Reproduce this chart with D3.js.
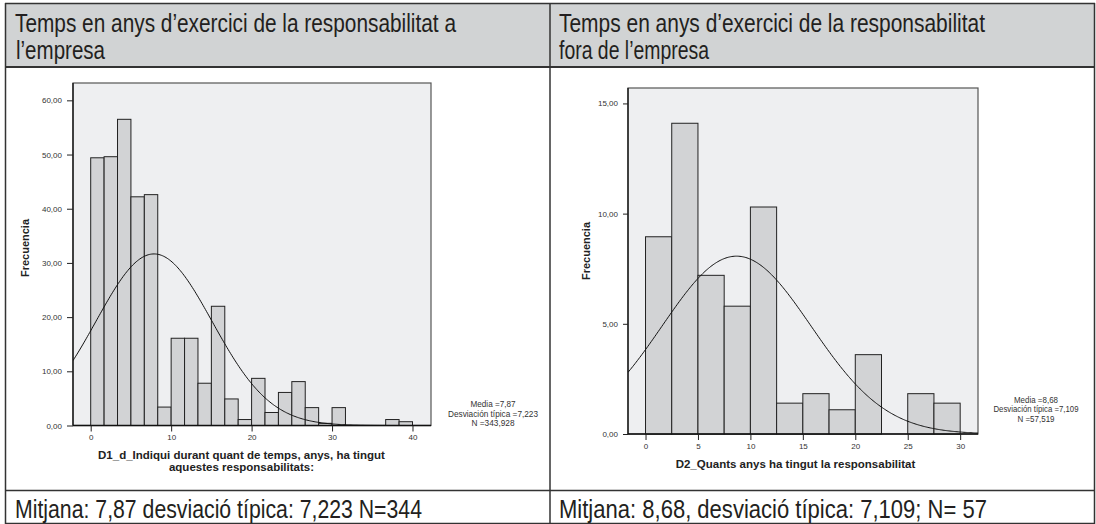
<!DOCTYPE html>
<html><head><meta charset="utf-8">
<script src="https://cdn.jsdelivr.net/npm/d3@7"></script>
<style>body{margin:0;background:#fff}</style>
</head><body><svg id="c" width="1096" height="524"></svg>
<script>
// ---- data ----
const leftFreq = [49.4, 49.6, 56.5, 42.2, 42.6, 3.4, 16.1, 16.1, 7.8, 22.0, 4.9, 1.1, 8.7, 2.4, 6.1, 8.1, 3.3, 0.4, 3.3, 0, 0, 0, 1.1, 0.7];
const leftBinStart = 0, leftBinWidth = 40 / 24;
const leftStats = [7.87, 7.223, 343.928]; // mean, sd, N
const leftYTicks = [0, 10, 20, 30, 40, 50, 60];
const leftXTicks = [0, 10, 20, 30, 40];
const leftLegend = ["Media =7,87", "Desviación típica =7,223", "N =343,928"];
const leftXLabel = ["D1_d_Indiqui durant quant de temps, anys, ha tingut", "aquestes responsabilitats:"];
const leftTitle = ["Temps en anys d\u2019exercici de la responsabilitat a", "l\u2019empresa"];
const leftFooter = "Mitjana: 7,87 desviació típica: 7,223 N=344";

const rightFreq = [8.95, 14.1, 7.2, 5.8, 10.3, 1.4, 1.83, 1.1, 3.6, 0, 1.83, 1.4];
const rightBinStart = 0, rightBinWidth = 2.5;
const rightStats = [8.68, 7.109, 57.519];
const rightYTicks = [0, 5, 10, 15];
const rightXTicks = [0, 5, 10, 15, 20, 25, 30];
const rightLegend = ["Media =8,68", "Desviación típica =7,109", "N =57,519"];
const rightXLabel = ["D2_Quants anys ha tingut la responsabilitat"];
const rightTitle = ["Temps en anys d\u2019exercici de la responsabilitat", "fora de l\u2019empresa"];
const rightFooter = "Mitjana: 8,68, desviació típica: 7,109; N= 57";

const yLabel = "Frecuencia";

// ---- drawing ----
const svg = d3.select("#c");
const sans = "'Liberation Sans',Arial,sans-serif";

// table
svg.append("rect").attr("x", 5).attr("y", 3).attr("width", 1089).attr("height", 64).attr("fill", "#d1d3d4");
const tl = svg.append("g").attr("stroke", "#333").attr("fill", "none");
tl.append("line").attr("x1", 5).attr("x2", 1095).attr("y1", 3.5).attr("y2", 3.5).attr("stroke-width", 1.5);
tl.append("line").attr("x1", 5).attr("x2", 1095).attr("y1", 67).attr("y2", 67).attr("stroke-width", 2);
tl.append("line").attr("x1", 5).attr("x2", 1095).attr("y1", 490.5).attr("y2", 490.5).attr("stroke-width", 1.5);
tl.append("line").attr("x1", 5).attr("x2", 1095).attr("y1", 523.5).attr("y2", 523.5).attr("stroke-width", 1.5);
tl.append("line").attr("x1", 5.5).attr("x2", 5.5).attr("y1", 3).attr("y2", 524).attr("stroke-width", 1.5);
tl.append("line").attr("x1", 1094.5).attr("x2", 1094.5).attr("y1", 3).attr("y2", 524).attr("stroke-width", 1.5);
tl.append("line").attr("x1", 550).attr("x2", 550).attr("y1", 3).attr("y2", 524).attr("stroke-width", 1.5);

function bigText(x, y, s, w) {
  svg.append("text").attr("x", x).attr("y", y).text(s)
    .attr("font-family", sans).attr("font-size", 25).attr("fill", "#231f20")
    .attr("textLength", w).attr("lengthAdjust", "spacingAndGlyphs");
}
bigText(15, 32, leftTitle[0], 441);
bigText(16, 59, leftTitle[1], 89);
bigText(559, 32, rightTitle[0], 426);
bigText(559, 59, rightTitle[1], 150);
bigText(15, 518, leftFooter, 407);
bigText(559, 518, rightFooter, 428);

function hist(cfg) {
  const g = svg.append("g");
  const x = d3.scaleLinear().domain(cfg.xDom).range([cfg.left, cfg.right]);
  const y = d3.scaleLinear().domain(cfg.yDom).range([cfg.bottom, cfg.top]);
  const clipId = "clip" + cfg.id;
  svg.append("clipPath").attr("id", clipId).append("rect")
    .attr("x", cfg.left).attr("y", cfg.top).attr("width", cfg.right - cfg.left).attr("height", cfg.bottom - cfg.top);
  g.append("rect").attr("x", cfg.left).attr("y", cfg.top).attr("width", cfg.right - cfg.left).attr("height", cfg.bottom - cfg.top)
    .attr("fill", "#eeeff1").attr("stroke", "#555").attr("stroke-width", 1.2);
  const bins = cfg.freq.map((f, i) => ({ x0: cfg.start + i * cfg.bw, x1: cfg.start + (i + 1) * cfg.bw, f }));
  g.append("g").selectAll("rect").data(bins.filter(d => d.f > 0)).join("rect")
    .attr("x", d => x(d.x0)).attr("width", d => x(d.x1) - x(d.x0))
    .attr("y", d => y(d.f)).attr("height", d => y(0) - y(d.f))
    .attr("fill", "#d2d3d5").attr("stroke", "#222").attr("stroke-width", 1);
  // normal curve from the stated mean, sd, N
  const [m, sd, n] = cfg.stats;
  const xs = d3.range(0, 301).map(i => cfg.xDom[0] + (cfg.xDom[1] - cfg.xDom[0]) * i / 300);
  const pts = xs.map(v => [v, n * cfg.bw / (sd * Math.sqrt(2 * Math.PI)) * Math.exp(-0.5 * ((v - m) / sd) ** 2)]);
  g.append("path").datum(pts).attr("clip-path", `url(#${clipId})`)
    .attr("d", d3.line().x(d => x(d[0])).y(d => y(d[1])))
    .attr("fill", "none").attr("stroke", "#111").attr("stroke-width", 1);
  // axes
  const fmt = v => d3.format(".2f")(v).replace(".", ",");
  const ya = g.append("g").attr("transform", `translate(${cfg.left},0)`)
    .call(d3.axisLeft(y).tickValues(cfg.yTicks).tickFormat(fmt).tickSize(cfg.yTick).tickPadding(5));
  const xa = g.append("g").attr("transform", `translate(0,${cfg.bottom})`)
    .call(d3.axisBottom(x).tickValues(cfg.xTicks).tickSize(6).tickPadding(3));
  [ya, xa].forEach(a => {
    a.select(".domain").attr("stroke", "#111").attr("stroke-width", 1.3);
    a.selectAll(".tick line").attr("stroke", "#222");
    a.selectAll(".tick text").attr("font-family", sans).attr("font-size", 8).attr("fill", "#333");
  });
  xa.select(".domain").attr("d", `M${cfg.left},0H${cfg.right}`);
  ya.select(".domain").attr("d", `M0,${cfg.bottom}V${cfg.top}`);
  // y label
  svg.append("text").attr("transform", `translate(${cfg.ylx},${cfg.yly}) rotate(-90)`)
    .attr("text-anchor", "middle").text(yLabel)
    .attr("font-family", sans).attr("font-weight", "bold").attr("font-size", 11).attr("fill", "#222");
  // x label
  cfg.xLabel.forEach((s, i) => svg.append("text").attr("x", cfg.xlx).attr("y", cfg.xly + i * 12)
    .attr("text-anchor", "middle").text(s)
    .attr("font-family", sans).attr("font-weight", "bold").attr("font-size", 11.5).attr("fill", "#222"));
  // legend
  cfg.legend.forEach((s, i) => svg.append("text").attr("x", cfg.lgx).attr("y", cfg.lgy + i * 9.7)
    .attr("text-anchor", "middle").text(s)
    .attr("font-family", sans).attr("font-size", 9.5).attr("fill", "#333")
    .attr("textLength", cfg.lgw[i]).attr("lengthAdjust", "spacingAndGlyphs"));
}

hist({ id: "L", freq: leftFreq, start: leftBinStart, bw: leftBinWidth, stats: leftStats,
  xDom: [-2.2, 42.3], yDom: [0, 63.2], left: 73, right: 431, top: 83, bottom: 425.5, yTick: 6,
  yTicks: leftYTicks, xTicks: leftXTicks, xLabel: leftXLabel, legend: leftLegend, lgw: [45, 90, 43],
  ylx: 29, yly: 248, xlx: 241.5, xly: 459, lgx: 493, lgy: 407 });
hist({ id: "R", freq: rightFreq, start: rightBinStart, bw: rightBinWidth, stats: rightStats,
  xDom: [-1.67, 31.7], yDom: [0, 15.7], left: 628, right: 978, top: 88, bottom: 434, yTick: 5,
  yTicks: rightYTicks, xTicks: rightXTicks, xLabel: rightXLabel, legend: rightLegend, lgw: [44, 85, 37],
  ylx: 590, yly: 251, xlx: 795.5, xly: 468, lgx: 1036, lgy: 402.5 });
</script></body></html>
